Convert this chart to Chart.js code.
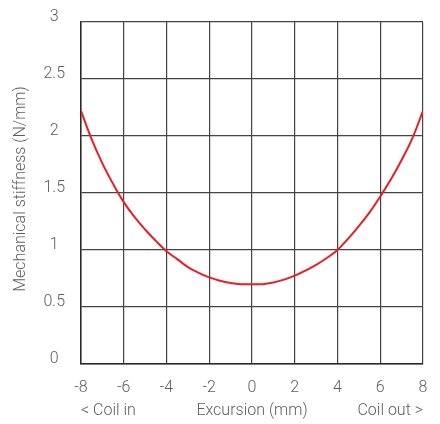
<!DOCTYPE html>
<html>
<head>
<meta charset="utf-8">
<script src="https://cdn.jsdelivr.net/npm/chart.js@4.4.0/dist/chart.umd.min.js"></script>
<style>
  html, body { margin: 0; padding: 0; background: #fff; }
  #wrap { width: 440px; height: 424px; }
</style>
</head>
<body>
<div id="wrap"><canvas id="stiffness-chart" width="440" height="424"></canvas></div>
<script>
// excursion (mm) and stiffness (N/mm)
var excursion = [-8, -7.5, -7, -6.5, -6, -5.5, -5, -4.5, -4, -3.5, -3, -2.5, -2, -1.5, -1, -0.5, 0,
                 0.5, 1, 1.5, 2, 2.5, 3, 3.5, 4, 4.5, 5, 5.5, 6, 6.5, 7, 7.5, 8];
var stiffness = [2.22, 1.97, 1.76, 1.58, 1.42, 1.29, 1.18, 1.08, 0.99, 0.92, 0.85, 0.80, 0.76, 0.73, 0.71, 0.70, 0.70,
                 0.70, 0.715, 0.74, 0.775, 0.82, 0.87, 0.93, 1.00, 1.10, 1.21, 1.33, 1.47, 1.62, 1.79, 1.98, 2.22];
var xTicks = [-8, -6, -4, -2, 0, 2, 4, 6, 8];
var yTicks = [0, 0.5, 1, 1.5, 2, 2.5, 3];

var fontFamily = 'Roboto';
var labelFont = { family: fontFamily, weight: '300', size: 16 };
var labelColor = '#5e5e5e';

// axis titles drawn by hand so they can sit where the reference has them
var titlesPlugin = {
  id: 'titles',
  afterDraw: function(chart) {
    var ctx = chart.ctx, area = chart.chartArea;
    ctx.save();
    ctx.fillStyle = labelColor;
    ctx.font = '300 16px ' + fontFamily;
    ctx.textBaseline = 'middle';
    ctx.textAlign = 'left';
    ctx.fillText('< Coil in', area.left, 411);
    ctx.textAlign = 'center';
    ctx.fillText('Excursion (mm)', (area.left + area.right) / 2, 411);
    ctx.textAlign = 'right';
    ctx.fillText('Coil out >', area.right, 411);
    ctx.translate(21, 189);
    ctx.rotate(-Math.PI / 2);
    ctx.textAlign = 'center';
    ctx.fillText('Mechanical stiffness (N/mm)', 0, 0);
    ctx.restore();
  }
};

// let layout.padding alone decide where the plot area sits
function noOverflow(axis) {
  axis.paddingTop = 0;
  axis.paddingBottom = 0;
  axis.paddingLeft = 0;
  axis.paddingRight = 0;
}

var points = excursion.map(function(x, i) { return { x: x, y: stiffness[i] }; });

new Chart(document.getElementById('stiffness-chart').getContext('2d'), {
  type: 'line',
  data: {
    datasets: [{
      data: points,
      borderColor: '#ea1d27',
      borderWidth: 2,
      pointRadius: 0,
      tension: 0.4,
      fill: false
    }]
  },
  options: {
    responsive: false,
    animation: false,
    layout: { padding: { left: 0, right: 17, top: 22, bottom: 0 } },
    plugins: { legend: { display: false }, tooltip: { enabled: false } },
    scales: {
      x: {
        type: 'linear',
        min: -8,
        max: 8,
        afterBuildTicks: function(axis) { axis.ticks = xTicks.map(function(v) { return { value: v }; }); },
        afterFit: function(axis) { axis.height = 60; noOverflow(axis); },
        grid: { color: '#444', lineWidth: 1.2, drawTicks: false },
        border: { color: '#2a2a2a', width: 1.5 },
        ticks: { font: labelFont, color: labelColor, padding: 14, maxRotation: 0 }
      },
      y: {
        min: 0,
        max: 3,
        afterBuildTicks: function(axis) { axis.ticks = yTicks.map(function(v) { return { value: v }; }); },
        afterFit: function(axis) { axis.width = 81; noOverflow(axis); },
        grid: { color: '#444', lineWidth: 1.2, drawTicks: false },
        border: { color: '#2a2a2a', width: 1.5 },
        ticks: {
          font: labelFont, color: labelColor, crossAlign: 'center', padding: 16, labelOffset: -5,
          callback: function(v) { return String(v); }
        }
      }
    }
  },
  plugins: [titlesPlugin]
});
</script>
</body>
</html>
